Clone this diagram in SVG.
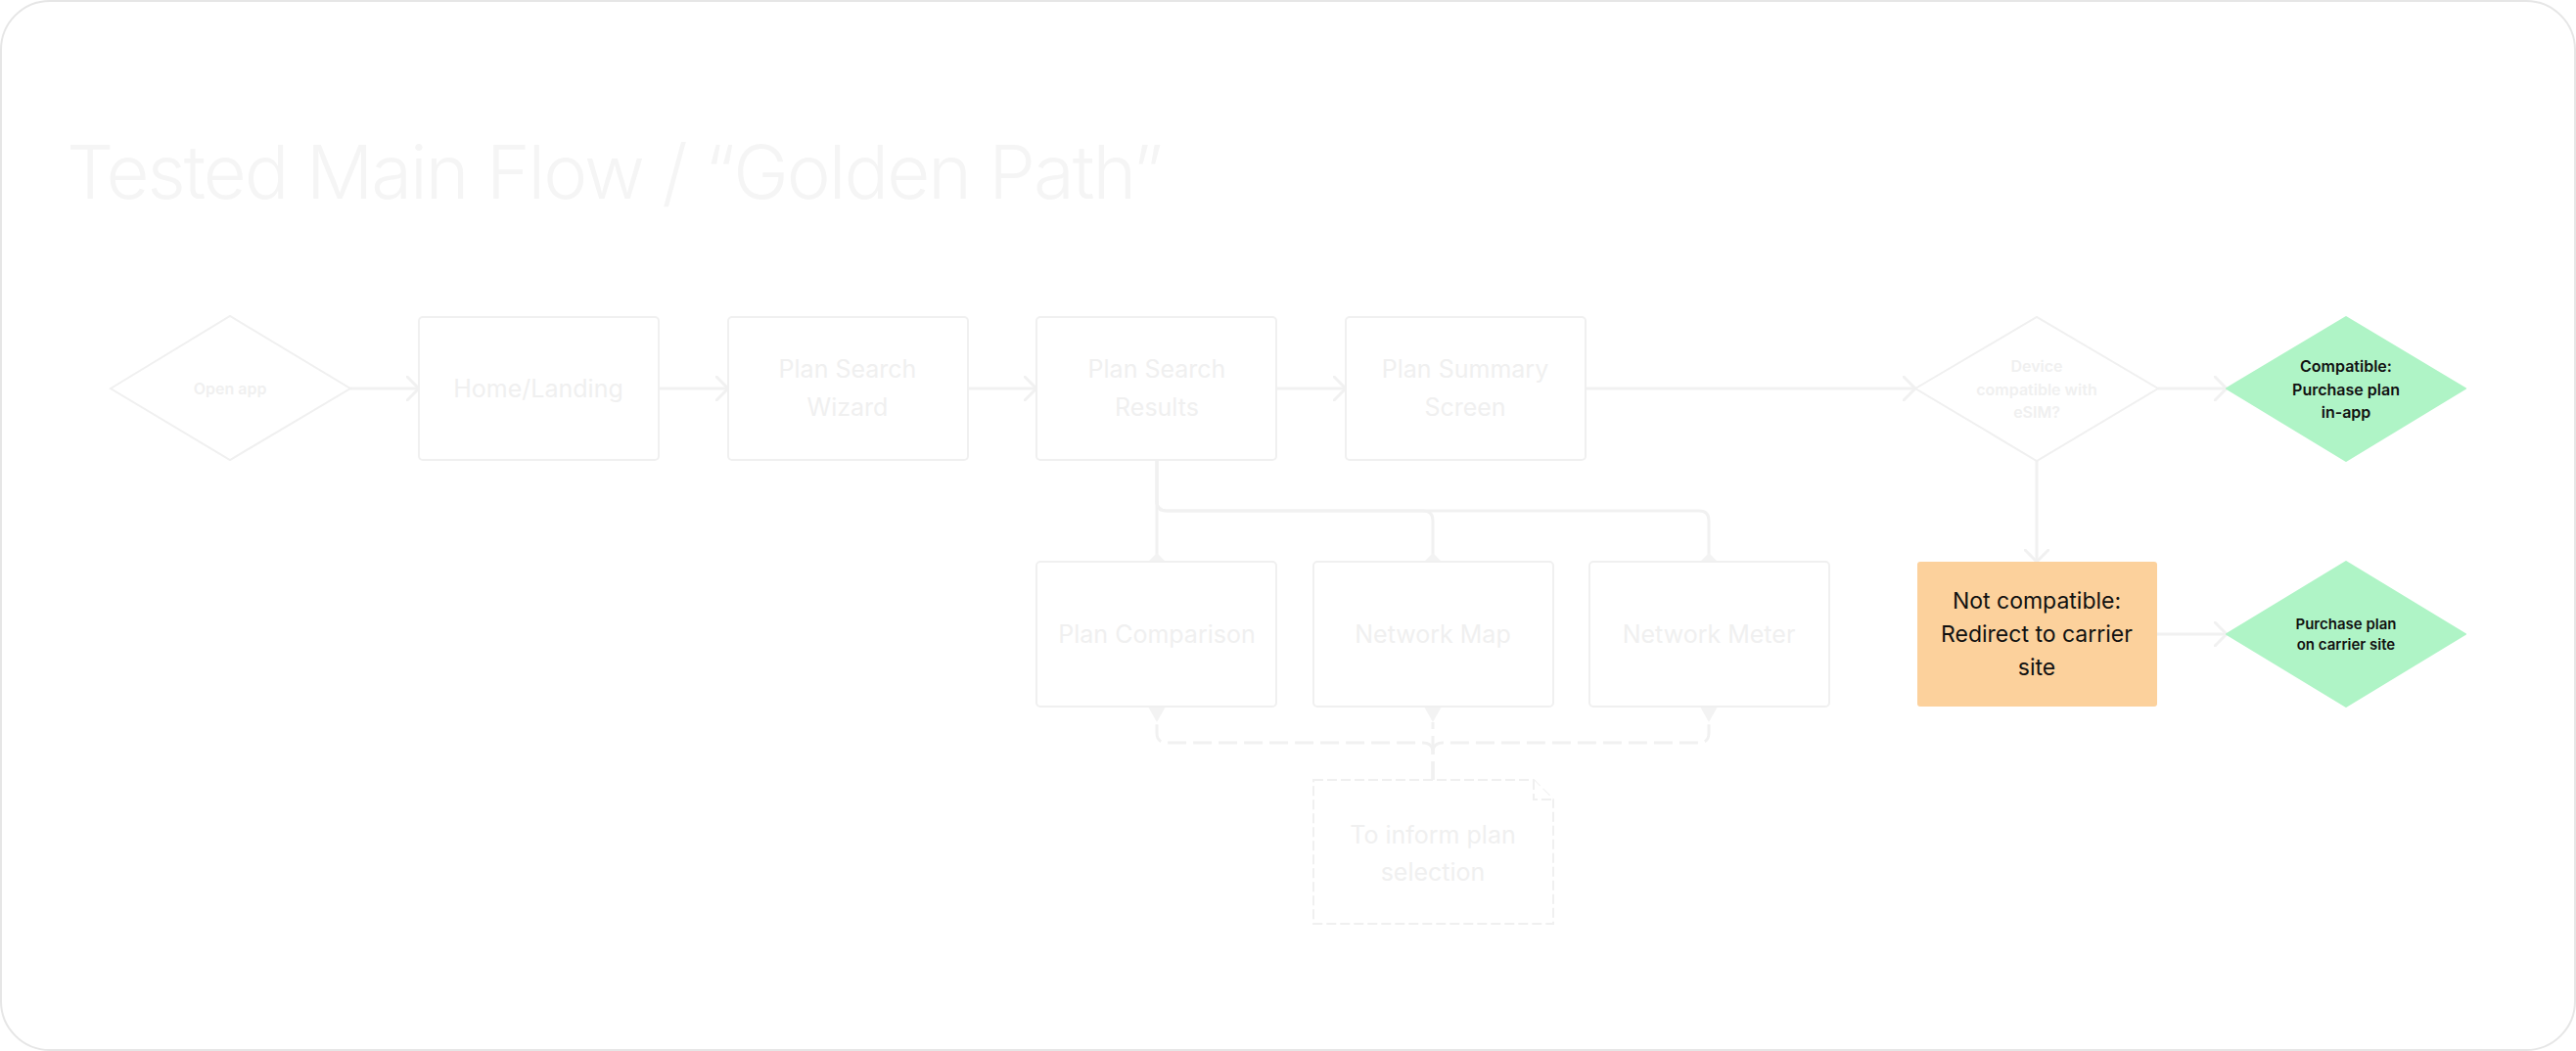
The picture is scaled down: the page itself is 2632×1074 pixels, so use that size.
<svg xmlns="http://www.w3.org/2000/svg" width="2632" height="1074" viewBox="0 0 2632 1074">
  <style>
    .frame{fill:#ffffff;stroke:#e6e6e6;stroke-width:2}
    .box{fill:#ffffff;stroke:#f0f0f0;stroke-width:2}
    .dbox{fill:#ffffff;stroke:#f0f0f0;stroke-width:2;stroke-dasharray:10 4}
    .t{font-family:Inter,"Liberation Sans",sans-serif;fill:#f0f0f0;text-anchor:middle}
    .big{font-size:25px}
    .dm{font-size:16px;font-weight:600}
    .title{font-family:Inter,"Liberation Sans",sans-serif;font-size:76px;font-weight:300;fill:#f5f5f5;letter-spacing:-2px}
    .line{fill:none;stroke:#f1f1f1;stroke-width:3}
    .dash{fill:none;stroke:#f1f1f1;stroke-width:3;stroke-dasharray:19 7}
    .tri{fill:#f3f3f3}
    .dark{fill:#111111}
  </style>
  <defs>
    <marker id="chev" viewBox="0 0 14 26" refX="13" refY="13" markerWidth="14" markerHeight="26" markerUnits="userSpaceOnUse" orient="auto">
      <path d="M1,1 L13,13 L1,25" fill="none" stroke="#f1f1f1" stroke-width="3" stroke-linecap="round" stroke-linejoin="round"/>
    </marker>
    <marker id="dia" viewBox="0 0 18 18" refX="9" refY="9" markerWidth="18" markerHeight="18" markerUnits="userSpaceOnUse" orient="auto">
      <path d="M0,9 L9,0 L18,9 L9,18 Z" fill="#f3f3f3"/>
    </marker>
  </defs>

  <rect class="frame" x="1" y="1" width="2630" height="1072" rx="50" ry="50"/>

  <text class="title" x="68" y="203">Tested Main Flow / “Golden Path”</text>

  <g id="connectors">
    <path class="line" d="M358,397 H428" marker-end="url(#chev)"/>
    <path class="line" d="M673,397 H744" marker-end="url(#chev)"/>
    <path class="line" d="M989,397 H1059" marker-end="url(#chev)"/>
    <path class="line" d="M1304,397 H1375" marker-end="url(#chev)"/>
    <path class="line" d="M1620,397 H1957" marker-end="url(#chev)"/>
    <path class="line" d="M2205,397 H2275" marker-end="url(#chev)"/>
    <path class="line" d="M2081,471 V574" marker-end="url(#chev)"/>
    <path class="line" d="M2204,648 H2275" marker-end="url(#chev)"/>
    <path class="line" d="M1182,470 V574" marker-end="url(#dia)"/>
    <path class="line" d="M1182,470 V512 Q1182,522 1192,522 H1454 Q1464,522 1464,532 V574" marker-end="url(#dia)"/>
    <path class="line" d="M1182,470 V512 Q1182,522 1192,522 H1736 Q1746,522 1746,532 V574" marker-end="url(#dia)"/>
    <path class="dash" d="M1464,797 V769 Q1464,759 1454,759 H1192 Q1182,759 1182,749 V738"/>
    <path class="dash" d="M1464,797 V738"/>
    <path class="dash" d="M1464,797 V769 Q1464,759 1474,759 H1736 Q1746,759 1746,749 V738"/>
    <polygon class="tri" points="1173,722 1191,722 1182,738"/>
    <polygon class="tri" points="1455,722 1473,722 1464,738"/>
    <polygon class="tri" points="1737,722 1755,722 1746,738"/>
  </g>

  <g id="open-app">
    <polygon class="box" points="113,397 235,323 358,397 235,470"/>
    <text class="t dm" x="235" y="403">Open app</text>
  </g>
  <g id="home-landing">
    <rect class="box" x="428" y="324" width="245" height="146" rx="4"/>
    <text class="t big" x="550" y="406">Home/Landing</text>
  </g>
  <g id="plan-search-wizard">
    <rect class="box" x="744" y="324" width="245" height="146" rx="4"/>
    <text class="t big" x="866" y="386">Plan Search</text>
    <text class="t big" x="866" y="425">Wizard</text>
  </g>
  <g id="plan-search-results">
    <rect class="box" x="1059" y="324" width="245" height="146" rx="4"/>
    <text class="t big" x="1182" y="386">Plan Search</text>
    <text class="t big" x="1182" y="425">Results</text>
  </g>
  <g id="plan-summary-screen">
    <rect class="box" x="1375" y="324" width="245" height="146" rx="4"/>
    <text class="t big" x="1497" y="386">Plan Summary</text>
    <text class="t big" x="1497" y="425">Screen</text>
  </g>
  <g id="device-compatible">
    <polygon class="box" points="1957,397 2081,324 2205,397 2081,471"/>
    <text class="t dm" x="2081" y="380">Device</text>
    <text class="t dm" x="2081" y="404">compatible with</text>
    <text class="t dm" x="2081" y="427">eSIM?</text>
  </g>
  <g id="compatible-purchase">
    <polygon points="2275,397 2397,324 2519,397 2397,471" fill="#AFF4C6" stroke="#AFF4C6" stroke-width="2" stroke-linejoin="round"/>
    <text class="t dm dark" x="2397" y="380">Compatible:</text>
    <text class="t dm dark" x="2397" y="404">Purchase plan</text>
    <text class="t dm dark" x="2397" y="427">in-app</text>
  </g>
  <g id="plan-comparison">
    <rect class="box" x="1059" y="574" width="245" height="148" rx="4"/>
    <text class="t big" x="1182" y="657">Plan Comparison</text>
  </g>
  <g id="network-map">
    <rect class="box" x="1342" y="574" width="245" height="148" rx="4"/>
    <text class="t big" x="1464" y="657">Network Map</text>
  </g>
  <g id="network-meter">
    <rect class="box" x="1624" y="574" width="245" height="148" rx="4"/>
    <text class="t big" x="1746" y="657">Network Meter</text>
  </g>
  <g id="inform-plan-selection">
    <path class="dbox" d="M1342,797 H1567 L1587,817 V944 H1342 Z"/>
    <path class="dbox" d="M1567,797 V817 H1587" fill="none"/>
    <text class="t big" x="1464" y="862">To inform plan</text>
    <text class="t big" x="1464" y="900">selection</text>
  </g>
  <g id="not-compatible">
    <rect x="1959" y="574" width="245" height="148" rx="3" fill="#FCD19C"/>
    <text class="t dark" font-size="23" x="2081" y="622">Not compatible:</text>
    <text class="t dark" font-size="23" x="2081" y="656">Redirect to carrier</text>
    <text class="t dark" font-size="23" x="2081" y="690">site</text>
  </g>
  <g id="purchase-carrier">
    <polygon points="2275,648 2397,574 2519,648 2397,722" fill="#AFF4C6" stroke="#AFF4C6" stroke-width="2" stroke-linejoin="round"/>
    <text class="t dark" font-size="15" font-weight="600" x="2397" y="643">Purchase plan</text>
    <text class="t dark" font-size="15" font-weight="600" x="2397" y="664">on carrier site</text>
  </g>
</svg>
